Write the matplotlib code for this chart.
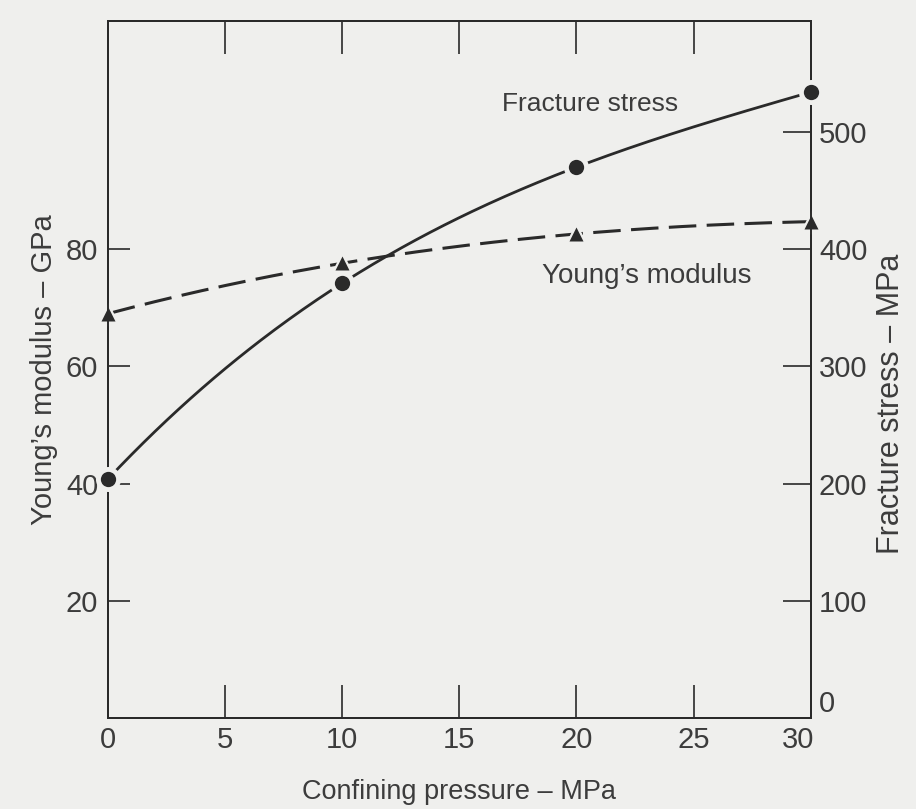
import numpy as np
import matplotlib
matplotlib.use("Agg")
import matplotlib.pyplot as plt
from matplotlib.transforms import ScaledTranslation

# Confining pressure (MPa)
pressure = [0, 10, 20, 30]
# Young's modulus (GPa), left axis
youngs_modulus = [69.0, 77.6, 82.6, 84.7]
# Fracture stress (MPa), right axis
fracture_stress = [204, 371, 470, 534]

x_ticks = [0, 5, 10, 15, 20, 25, 30]
left_ticks = [20, 40, 60, 80]
right_ticks = [0, 100, 200, 300, 400, 500]

bg = "#efefed"
ink = "#2a2a2a"
text_col = "#3c3c3c"

plt.rcParams["font.family"] = ["Liberation Sans", "DejaVu Sans"]

fig = plt.figure(figsize=(9.16, 8.09), dpi=100, facecolor=bg)
ax = fig.add_axes([0.118, 0.1125, 0.767, 0.862], facecolor=bg)
ax2 = ax.twinx()
ax2.patch.set_visible(False)

# smooth curves through the measured points
xs = np.linspace(0, 30, 300)
fs_curve = np.polyval(np.polyfit(pressure, fracture_stress, 3), xs)
ym_curve = np.polyval(np.polyfit(pressure, youngs_modulus, 3), xs)

ax.plot(xs, ym_curve, color=ink, lw=2.2, dashes=(9, 3.4), zorder=2)
# background halo so the curve stops short of each symbol
ax.plot(pressure, youngs_modulus, linestyle="none", marker="^", ms=17,
        color=bg, mec="none", zorder=3, clip_on=False)
ax.plot(pressure, youngs_modulus, linestyle="none", marker="^", ms=10,
        color=ink, mec="none", zorder=4, clip_on=False)

ax2.plot(xs, fs_curve, color=ink, lw=2.0, zorder=2)
ax2.plot(pressure, fracture_stress, linestyle="none", marker="o", ms=18,
         color=bg, mec="none", zorder=3, clip_on=False)
ax2.plot(pressure, fracture_stress, linestyle="none", marker="o", ms=11,
         color=ink, mec="none", zorder=4, clip_on=False)

ax.set_xlim(0, 30)
ax.set_ylim(0, 119)
ax2.set_ylim(0, 595)

ax.set_xticks(x_ticks)
ax.set_xticklabels([str(v) for v in x_ticks])
ax.set_yticks(left_ticks)
ax.set_yticklabels([str(v) for v in left_ticks])
ax2.set_yticks(right_ticks)
ax2.set_yticklabels([str(v) for v in right_ticks])

ax.tick_params(axis="x", direction="in", length=24, width=1.2, color=ink,
               top=True, labelsize=21, labelcolor=text_col, pad=6)
ax.tick_params(axis="y", direction="in", length=16, width=1.2, color=ink,
               labelsize=21, labelcolor=text_col, pad=7)
ax2.tick_params(axis="y", direction="in", length=20, width=1.2, color=ink,
                labelsize=21, labelcolor=text_col, pad=6)

# corner labels: lift the right-axis zero, nudge the last pressure label left
corner_up = ScaledTranslation(0, 12 / 72, fig.dpi_scale_trans)
corner_left = ScaledTranslation(-9 / 72, 0, fig.dpi_scale_trans)
zero_lbl = ax2.get_yticklabels()[0]
zero_lbl.set_transform(zero_lbl.get_transform() + corner_up)
last_lbl = ax.get_xticklabels()[-1]
last_lbl.set_transform(last_lbl.get_transform() + corner_left)

for a in (ax, ax2):
    for s in a.spines.values():
        s.set_color(ink)
        s.set_linewidth(1.4)

ax.set_xlabel("Confining pressure \u2013 MPa", fontsize=19.5, color=text_col,
              labelpad=18)
ax.set_ylabel("Young\u2019s modulus \u2013 GPa", fontsize=21, color=text_col,
              labelpad=6)
ax2.set_ylabel("Fracture stress \u2013 MPa", fontsize=22, color=text_col)
ax2.yaxis.set_label_coords(1.093, 0.45)

ax.text(20.6, 104.7, "Fracture stress", fontsize=19, color=text_col,
        ha="center", va="center")
ax.text(23.0, 75.5, "Young\u2019s modulus", fontsize=20, color=text_col,
        ha="center", va="center")

fig.savefig("out.png", dpi=100, facecolor=bg)
